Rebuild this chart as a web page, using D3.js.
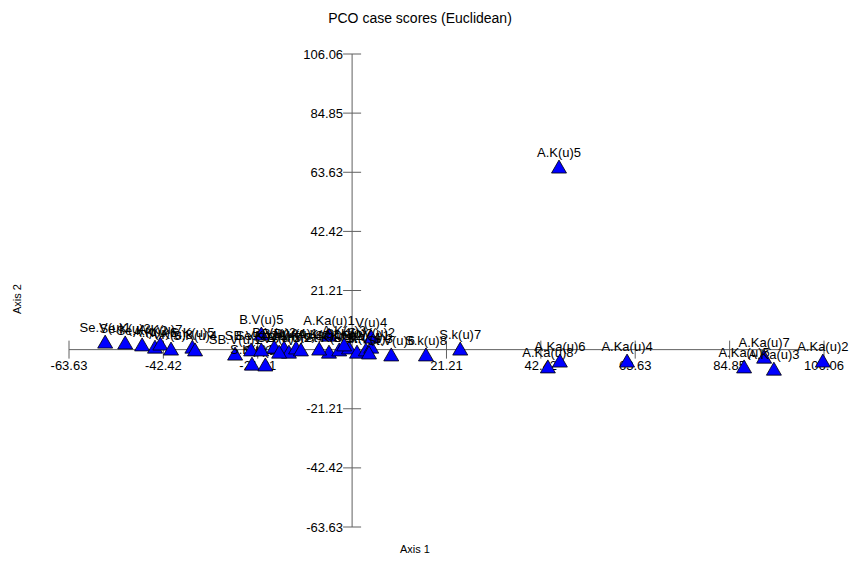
<!DOCTYPE html>
<html>
<head>
<meta charset="utf-8">
<script src="https://cdn.jsdelivr.net/npm/d3@7"></script>
<style>
  body { margin: 0; background: #fff; }
  text { font-family: "Liberation Sans", Arial, sans-serif; }
</style>
</head>
<body>
<script>
// PCO case scores
const names = [
  "Se.V(u)1", "Se.K(u)3", "Se.K(u)2", "A.K(u)6", "A.K(u)7", "A.K(u)8",
  "S.K(u)5", "S.K(u)4", "SB.V(u)1", "S.K(u)1", "S.K(u)2", "SB.V(u)2",
  "B.V(u)5", "Se.K(u)1", "B.V(u)3", "B.V(u)4", "B.V(u)2", "B.V(u)1",
  "A.Ka(u)1", "A.K(u)4", "St.K(u)1", "St.K(u)2", "St.K(u)3", "St.K(u)4",
  "St.V(u)1", "St.V(u)2", "V(u)4", "St.V(u)3", "St.V(u)6", "S.k(u)8",
  "S.k(u)7", "A.Ka(u)8", "A.Ka(u)6", "A.Ka(u)4", "A.Ka(u)5", "A.Ka(u)7",
  "A.Ka(u)3", "A.Ka(u)2", "A.K(u)5", "A.K(u)1", "A.K(u)3", "S.V(u)5"
];
const axis1 = [
  -55.5, -51.0, -47.2, -44.3, -43.1, -40.7,
  -35.9, -35.3, -26.3, -22.5, -19.5, -22.7,
  -20.4, -20.4, -17.5, -15.3, -14.2, -12.6,
  -5.2, -11.5, -5.2, -2.9, -0.7, 1.1,
  3.1, 4.3, 4.3, 3.8, 8.8, 16.6,
  24.3, 44.0, 46.7, 61.8, 88.1, 92.6,
  94.8, 105.8, 46.5, -7.4, -1.8, -16.4
];
const axis2 = [
  2.7, 2.4, 1.7, 0.9, 2.0, 0.2,
  0.9, -0.1, -1.6, -5.2, -5.5, -0.1,
  5.6, -0.1, 0.9, 0.6, -0.9, 0.6,
  5.2, -0.1, -0.9, -0.1, 0.6, -0.9,
  -0.1, 0.9, 4.5, -1.2, -1.9, -1.9,
  0.2, -6.2, -4.1, -4.1, -6.2, -2.7,
  -7.0, -4.1, 65.5, 0.2, 1.7, -0.9
];
const tickValues = [-63.63, -42.42, -21.21, 0, 21.21, 42.42, 63.63, 84.85, 106.06];

const width = 858, height = 563;

const svg = d3.select('body')
  .append('svg')
    .attr('width', width)
    .attr('height', height);

const xScale = d3.scaleLinear()
  .domain([-63.63, 106.06])
  .range([69, 824]);

const yScale = d3.scaleLinear()
  .domain([-63.63, 106.06])
  .range([527, 54]);

const axisColor = '#606060';
const x0 = xScale(0), y0 = yScale(0);

// title
svg.append('text')
  .attr('x', 420)
  .attr('y', 23)
  .attr('text-anchor', 'middle')
  .style('font-size', '14px')
  .text('PCO case scores (Euclidean)');

// axis lines
svg.append('line')
  .attr('x1', xScale(-63.63)).attr('x2', xScale(106.06))
  .attr('y1', y0).attr('y2', y0)
  .attr('stroke', axisColor);
svg.append('line')
  .attr('x1', x0).attr('x2', x0)
  .attr('y1', yScale(-63.63)).attr('y2', yScale(106.06))
  .attr('stroke', axisColor);

const ticks = tickValues.filter(d => d !== 0);

// x ticks cross the axis
svg.append('g').selectAll('line')
  .data(ticks)
  .join('line')
    .attr('x1', d => xScale(d)).attr('x2', d => xScale(d))
    .attr('y1', y0 - 9).attr('y2', y0 + 9)
    .attr('stroke', axisColor);

svg.append('g').selectAll('text')
  .data(ticks)
  .join('text')
    .attr('x', d => xScale(d))
    .attr('y', y0 + 20)
    .attr('text-anchor', 'middle')
    .style('font-size', '13px')
    .text(d => d.toFixed(2));

// y ticks
svg.append('g').selectAll('line')
  .data(ticks)
  .join('line')
    .attr('x1', x0 - 9).attr('x2', x0 + 9)
    .attr('y1', d => yScale(d)).attr('y2', d => yScale(d))
    .attr('stroke', axisColor);

svg.append('g').selectAll('text')
  .data(ticks)
  .join('text')
    .attr('x', x0 - 9)
    .attr('y', d => yScale(d))
    .attr('dy', '0.35em')
    .attr('text-anchor', 'end')
    .style('font-size', '13px')
    .text(d => d.toFixed(2));

// axis titles
svg.append('text')
  .attr('x', 415)
  .attr('y', 553)
  .attr('text-anchor', 'middle')
  .style('font-size', '11px')
  .text('Axis 1');

svg.append('text')
  .attr('transform', 'translate(21, 299) rotate(-90)')
  .attr('text-anchor', 'middle')
  .style('font-size', '11px')
  .text('Axis 2');

// points
const points = names.map((n, i) => ({ name: n, x: axis1[i], y: axis2[i] }));

const pts = svg.append('g').selectAll('g')
  .data(points)
  .join('g')
    .attr('transform', d => `translate(${xScale(d.x)},${yScale(d.y)})`);

pts.append('text')
  .attr('y', -10)
  .attr('text-anchor', 'middle')
  .style('font-size', '13px')
  .text(d => d.name);

pts.append('path')
  .attr('d', 'M0,-7L7.5,6L-7.5,6Z')
  .attr('fill', '#0000ff')
  .attr('stroke', '#000')
  .attr('stroke-width', 0.8);
</script>
</body>
</html>
